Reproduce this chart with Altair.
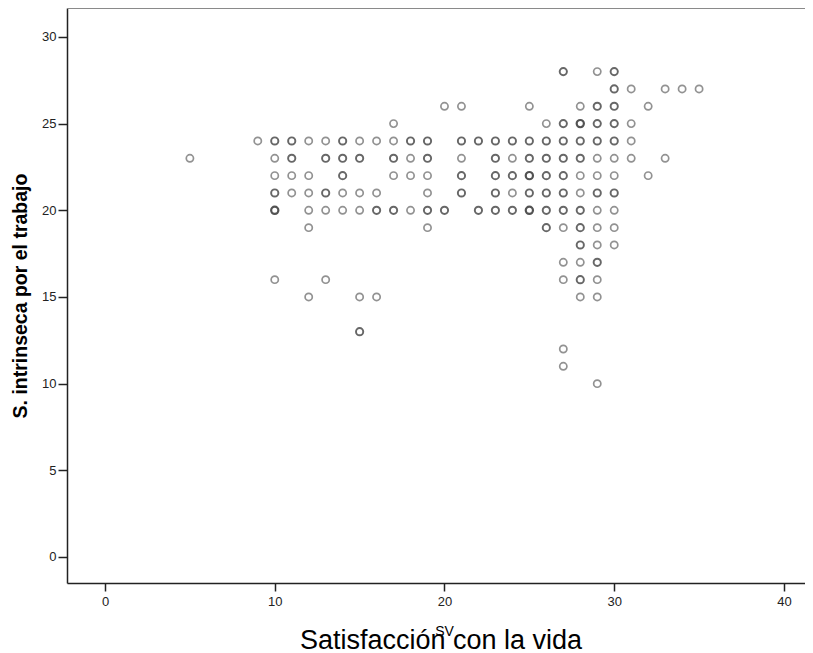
import altair as alt
import pandas as pd

# x = SV (Satisfacción con la vida), y = S. intrinseca por el trabajo,
# n = estimated number of overlapping cases at that position (darker rings)
sv_28 = [27, 29, 30];  n_28 = [2, 1, 2]
sv_27 = [30, 31, 33, 34, 35];  n_27 = [2, 1, 1, 1, 1]
sv_26 = [20, 21, 25, 28, 29, 30, 32];  n_26 = [1, 1, 1, 1, 2, 2, 1]
sv_25 = [17, 26, 27, 28, 29, 30, 31];  n_25 = [1, 1, 2, 3, 2, 2, 1]
sv_24 = [9, 10, 11, 12, 13, 14, 15, 16, 17, 18, 19, 21, 22, 23, 24, 25, 26, 27, 28, 29, 30, 31]
n_24 = [1, 2, 2, 1, 1, 2, 1, 1, 1, 2, 2, 2, 2, 2, 2, 2, 2, 2, 2, 2, 2, 1]
sv_23 = [5, 10, 11, 13, 14, 15, 17, 18, 19, 21, 23, 24, 25, 26, 27, 28, 29, 30, 31, 33]
n_23 = [1, 1, 2, 2, 2, 2, 2, 1, 2, 1, 2, 1, 2, 2, 2, 2, 1, 1, 1, 1]
sv_22 = [10, 11, 12, 14, 17, 18, 19, 21, 23, 24, 25, 26, 27, 28, 29, 30, 32]
n_22 = [1, 1, 1, 2, 1, 1, 1, 2, 2, 2, 3, 2, 2, 1, 1, 1, 1]
sv_21 = [10, 11, 12, 13, 14, 15, 16, 19, 21, 23, 24, 25, 26, 27, 28, 29, 30]
n_21 = [2, 1, 1, 2, 1, 1, 1, 1, 2, 2, 1, 2, 2, 2, 1, 2, 2]
sv_20 = [10, 12, 13, 14, 15, 16, 17, 18, 19, 20, 22, 23, 24, 25, 26, 27, 28, 29, 30]
n_20 = [3, 1, 1, 1, 1, 2, 2, 1, 2, 2, 2, 2, 2, 3, 2, 2, 2, 1, 1]
sv_19 = [12, 19, 26, 27, 28, 29, 30];  n_19 = [1, 1, 2, 1, 2, 1, 1]
sv_18 = [28, 29, 30];  n_18 = [2, 1, 1]
sv_17 = [27, 28, 29];  n_17 = [1, 1, 2]
sv_16 = [10, 13, 27, 28, 29];  n_16 = [1, 1, 1, 2, 1]
sv_15 = [12, 15, 16, 28, 29];  n_15 = [1, 1, 1, 1, 1]
sv_13 = [15];  n_13 = [2]
sv_12 = [27];  n_12 = [1]
sv_11 = [27];  n_11 = [1]
sv_10 = [29];  n_10 = [1]

rows = [
    (28, sv_28, n_28), (27, sv_27, n_27), (26, sv_26, n_26), (25, sv_25, n_25),
    (24, sv_24, n_24), (23, sv_23, n_23), (22, sv_22, n_22), (21, sv_21, n_21),
    (20, sv_20, n_20), (19, sv_19, n_19), (18, sv_18, n_18), (17, sv_17, n_17),
    (16, sv_16, n_16), (15, sv_15, n_15), (13, sv_13, n_13), (12, sv_12, n_12),
    (11, sv_11, n_11), (10, sv_10, n_10),
]

x_ticks = [0, 10, 20, 30, 40]
y_ticks = [0, 5, 10, 15, 20, 25, 30]
x_title = "SV"
y_title = "S. intrinseca por el trabajo"
caption = "Satisfacción con la vida"

recs = []
for yv, xs, ns in rows:
    for xv, nv in zip(xs, ns):
        recs.append({"SV": xv, "SIT": yv, "n": nv})
df = pd.DataFrame(recs)

W, H = 738, 575
FONT = "Liberation Sans"

points = alt.Chart(df).mark_point(shape="circle", filled=False, size=52).encode(
    x=alt.X("SV:Q",
            scale=alt.Scale(domain=[-2.24, 41.24], nice=False, zero=False),
            axis=alt.Axis(values=x_ticks, title=x_title, grid=False,
                          tickSize=8, labelPadding=4, titleX=377, titleY=41,
                          titleFontSize=14, titleFontWeight="normal")),
    y=alt.Y("SIT:Q",
            scale=alt.Scale(domain=[-1.5, 31.67], nice=False, zero=False),
            axis=alt.Axis(values=y_ticks, title=y_title, grid=False,
                          tickSize=9, labelPadding=2, titlePadding=11,
                          titleFontSize=19.5, titleFontWeight="bold")),
    stroke=alt.Stroke("n:O", scale=alt.Scale(domain=[1, 2, 3], range=["#646464", "#282828", "#0a0a0a"]), legend=None),
    strokeWidth=alt.StrokeWidth("n:O", scale=alt.Scale(domain=[1, 2, 3], range=[1.7, 2.2, 2.6]), legend=None),
)

top_line = alt.Chart(pd.DataFrame({"a": [0]})).mark_rule(color="#8a8a8a", strokeWidth=2).encode(
    x=alt.value(0), x2=alt.value(W), y=alt.value(0)
)

cap = alt.Chart(pd.DataFrame({"t": [caption]})).mark_text(
    font=FONT, fontSize=27, color="#000000", align="center", baseline="alphabetic"
).encode(text="t:N", x=alt.value(374), y=alt.value(641))

chart = alt.layer(points, top_line, cap).properties(
    width=W, height=H,
    autosize=alt.AutoSizeParams(type="none"),
    padding={"left": 59, "top": 0, "right": 0, "bottom": 70},
).configure_view(stroke=None).configure_axis(
    labelFont=FONT, titleFont=FONT, labelFontSize=13, labelColor="#222222",
    titleColor="#000000", domainColor="#222222", domainWidth=1.5,
    tickColor="#222222", tickWidth=1.5,
)

chart.save("out.html", embed_options={"renderer": "svg", "actions": False})
